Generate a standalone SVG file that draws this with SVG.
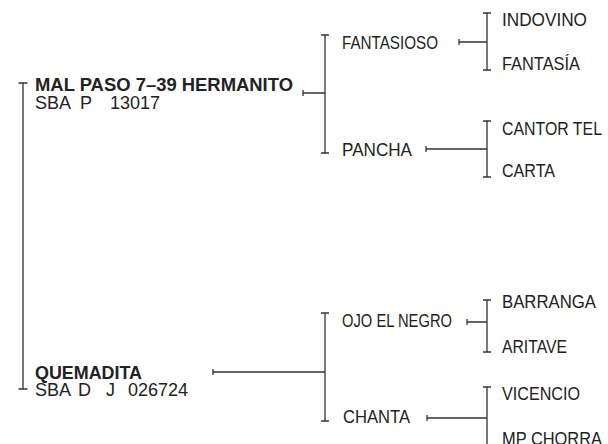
<svg xmlns="http://www.w3.org/2000/svg" width="608" height="444" viewBox="0 0 608 444">
<style>
.t{font-family:"Liberation Sans",Arial,sans-serif;font-size:18px;fill:#222}
.b{font-weight:bold}
.c{stroke:#333;stroke-width:1.3;fill:none}
</style>
<rect width="608" height="444" fill="#fff"/>
<g id="connectors" class="c">
<path d="M23 83V389M18.5 83H27.5M18.5 389H27.5"/>
<path d="M303 93H325M303 90V96"/>
<path d="M213 372H325M213 369V375"/>
<path d="M325 35V153M321 35H329M321 153H329"/>
<path d="M325 313V421M321 313H329M321 421H329"/>
<path d="M459 42H487M459 39V45"/>
<path d="M487 13V70M483 13H491M483 70H491"/>
<path d="M426 149H487M426 146V152"/>
<path d="M487 121V177M483 121H491M483 177H491"/>
<path d="M467 322H487M467 319V325"/>
<path d="M487 300V352M483 300H491M483 352H491"/>
<path d="M427 418H487M427 415V421"/>
<path d="M487 387V444M483 387H491"/>
</g>
<g id="n-malpaso">
<text class="t b" x="35" y="91" textLength="258" lengthAdjust="spacingAndGlyphs">MAL PASO 7–39 HERMANITO</text>
<text class="t" x="35" y="109"><tspan x="35">SBA</tspan><tspan x="80">P</tspan><tspan x="110">13017</tspan></text>
</g>
<g id="n-quemadita">
<text class="t b" x="35" y="379" textLength="107" lengthAdjust="spacingAndGlyphs">QUEMADITA</text>
<text class="t" x="35" y="396"><tspan x="35">SBA</tspan><tspan x="78">D</tspan><tspan x="106">J</tspan><tspan x="128">026724</tspan></text>
</g>
<g id="n-fantasioso"><text class="t" x="342" y="49" textLength="96" lengthAdjust="spacingAndGlyphs">FANTASIOSO</text></g>
<g id="n-pancha"><text class="t" x="342" y="156" textLength="70" lengthAdjust="spacingAndGlyphs">PANCHA</text></g>
<g id="n-ojo"><text class="t" x="342" y="327" textLength="110" lengthAdjust="spacingAndGlyphs">OJO EL NEGRO</text></g>
<g id="n-chanta"><text class="t" x="343" y="423" textLength="67" lengthAdjust="spacingAndGlyphs">CHANTA</text></g>
<g id="n-indovino"><text class="t" x="502" y="26" textLength="85" lengthAdjust="spacingAndGlyphs">INDOVINO</text></g>
<g id="n-fantasia"><text class="t" x="502" y="70" textLength="78" lengthAdjust="spacingAndGlyphs">FANTASÍA</text></g>
<g id="n-cantortel"><text class="t" x="502" y="135" textLength="100" lengthAdjust="spacingAndGlyphs">CANTOR TEL</text></g>
<g id="n-carta"><text class="t" x="502" y="177" textLength="53" lengthAdjust="spacingAndGlyphs">CARTA</text></g>
<g id="n-barranga"><text class="t" x="502" y="308" textLength="94" lengthAdjust="spacingAndGlyphs">BARRANGA</text></g>
<g id="n-aritave"><text class="t" x="502" y="353" textLength="65" lengthAdjust="spacingAndGlyphs">ARITAVE</text></g>
<g id="n-vicencio"><text class="t" x="502" y="400" textLength="78" lengthAdjust="spacingAndGlyphs">VICENCIO</text></g>
<g id="n-mpchorra"><text class="t" x="502" y="445" textLength="100" lengthAdjust="spacingAndGlyphs">MP CHORRA</text></g>
</svg>
